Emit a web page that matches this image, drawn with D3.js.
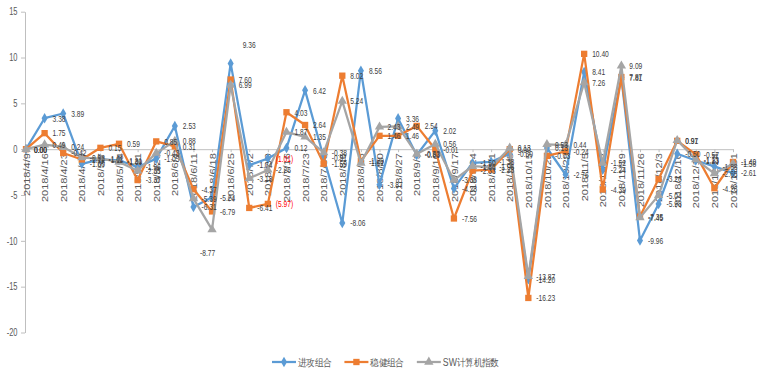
<!DOCTYPE html>
<html>
<head>
<meta charset="utf-8">
<script src="https://cdn.jsdelivr.net/npm/d3@7"></script>
<style>
  body { margin: 0; background: #fff; }
  svg { display: block; }
  text { font-family: "Liberation Sans", Arial, sans-serif; }
</style>
</head>
<body>
<svg id="chart" width="761" height="371"></svg>
<script>
// Weekly dates (category axis)
const dates = [
  "2018/4/9","2018/4/16","2018/4/23","2018/4/30","2018/5/7","2018/5/14","2018/5/21","2018/5/28",
  "2018/6/4","2018/6/11","2018/6/18","2018/6/25","2018/7/2","2018/7/9","2018/7/16","2018/7/23",
  "2018/7/30","2018/8/6","2018/8/13","2018/8/20","2018/8/27","2018/9/3","2018/9/10","2018/9/17",
  "2018/9/24","2018/10/1","2018/10/8","2018/10/15","2018/10/22","2018/10/29","2018/11/5","2018/11/12",
  "2018/11/19","2018/11/26","2018/12/3","2018/12/10","2018/12/17","2018/12/24","2018/12/31"
];

// Weekly returns (%)
const attack = [
  0.00, 3.38, 3.89, -1.60, -1.11, -1.21, -1.96, -1.03,
  2.53, -6.31, -5.24, 9.36, -1.74, -1.01, 0.12, 6.42,
  -0.91, -8.06, 8.56, -3.87, 3.36, -0.63, 2.02, -4.28,
  -1.50, -1.38, -0.50, -14.20, 0.13, -2.76, 8.41, -2.24,
  7.81, -9.96, -5.98, -0.50, -1.23, -1.88, -2.61
];
const steady = [
  0.00, 1.75, -0.42, -1.12, 0.15, 0.59, -3.37, 0.85,
  0.31, -4.37, -6.79, 7.60, -6.41, -5.97, 4.03, 2.64,
  -1.59, 8.02, -1.29, 1.46, 1.46, 2.54, -0.01, -7.56,
  -2.33, -2.23, 0.00, -16.23, -0.73, -0.24, 10.40, -4.39,
  7.87, -7.35, -3.26, 0.91, -0.57, -4.26, -1.40
];
const swIndex = [
  0.00, 0.49, 0.24, -0.92, -1.02, -1.39, -2.35, -0.43,
  0.88, -5.39, -8.77, 6.99, -3.18, -2.26, 1.87, 1.35,
  -0.38, 5.24, -1.52, 2.43, 2.49, -0.53, 0.56, -3.38,
  -1.86, -1.96, 0.13, -13.87, 0.53, 0.44, 7.26, -1.52,
  9.09, -7.45, -5.04, 0.97, -1.13, -2.65, -1.58
];

const seriesNames = ["进攻组合", "稳健组合", "SW计算机指数"];
const yTicks = [15, 10, 5, 0, -5, -10, -15, -20];

// Labels of this week use the red bracketed number format
const redLabelDates = ["2018/7/9"];
const redLabelSeries = ["进攻组合", "稳健组合"];

// A few labels that sit away from the default right-hand spot
const labelNudge = {
  "进攻组合|2018/6/25": [4, -19],
  "SW计算机指数|2018/6/18": [-20, 23]
};

const svg = d3.select("#chart");
const x = d3.scalePoint().domain(dates).range([26, 733]);
const y = d3.scaleLinear().domain([-20, 15]).range([332.5, 11.7]);

const axisColor = "#bfbfbf";
const textColor = "#595959";

// Value axis
const yAxis = svg.append("g")
  .attr("transform", "translate(25,0)")
  .call(d3.axisLeft(y).tickValues(yTicks).tickSize(4).tickSizeOuter(0).tickFormat(d => String(d)));
yAxis.select(".domain").attr("stroke", axisColor);
yAxis.selectAll(".tick line").attr("stroke", axisColor);
yAxis.selectAll(".tick text")
  .attr("fill", textColor)
  .attr("font-size", 10)
  .attr("x", -10)
  .attr("transform", "scale(0.75,1)");

// Category axis through zero
const xAxis = svg.append("g")
  .attr("transform", `translate(0,${y(0)})`)
  .call(d3.axisBottom(x).tickSize(3).tickSizeOuter(0));
xAxis.select(".domain").attr("stroke", axisColor);
xAxis.selectAll(".tick line").attr("stroke", axisColor);
xAxis.selectAll(".tick text")
  .attr("fill", textColor)
  .attr("font-size", 11)
  .attr("text-anchor", "end")
  .attr("x", -4)
  .attr("y", 0)
  .attr("dy", "0.35em")
  .attr("transform", "rotate(-90) scale(1,0.8)");

const series = [
  { name: seriesNames[0], values: attack,  color: "#5b9bd5", symbol: d3.symbolDiamond,  size: 32 },
  { name: seriesNames[1], values: steady,  color: "#ed7d31", symbol: d3.symbolSquare,   size: 40 },
  { name: seriesNames[2], values: swIndex, color: "#a5a5a5", symbol: d3.symbolTriangle, size: 38 }
];

const line = d3.line()
  .x((d, i) => x(dates[i]))
  .y(d => y(d));

// Lines and markers
series.forEach(s => {
  const g = svg.append("g");
  g.append("path")
    .datum(s.values)
    .attr("fill", "none")
    .attr("stroke", s.color)
    .attr("stroke-width", 2.25)
    .attr("stroke-linejoin", "round")
    .attr("d", line);
  g.selectAll("path.marker")
    .data(s.values)
    .join("path")
    .attr("class", "marker")
    .attr("d", d3.symbol().type(s.symbol).size(s.size))
    .attr("fill", s.color)
    .attr("transform", (d, i) => `translate(${x(dates[i])},${y(d)})`);
});

// Data labels
series.forEach(s => {
  const g = svg.append("g");
  g.selectAll("text")
    .data(s.values)
    .join("text")
    .attr("font-size", 9.5)
    .attr("dy", "0.35em")
    .attr("fill", (d, i) =>
      redLabelDates.includes(dates[i]) && redLabelSeries.includes(s.name) ? "#ff0000" : "#404040")
    .attr("transform", (d, i) => {
      const n = labelNudge[s.name + "|" + dates[i]] || [0, 0];
      return `translate(${x(dates[i]) + 8 + n[0]},${y(d) + n[1]}) scale(0.7,1)`;
    })
    .text((d, i) =>
      redLabelDates.includes(dates[i]) && redLabelSeries.includes(s.name)
        ? "(" + Math.abs(d).toFixed(2) + ")"
        : d.toFixed(2));
});

// Legend
const legend = svg.append("g").attr("transform", "translate(272,362)");
let lx = 0;
series.forEach(s => {
  const item = legend.append("g").attr("transform", `translate(${lx},0)`);
  item.append("line")
    .attr("x1", 0).attr("x2", 24).attr("y1", 0).attr("y2", 0)
    .attr("stroke", s.color).attr("stroke-width", 2.25);
  item.append("path")
    .attr("d", d3.symbol().type(s.symbol).size(s.size))
    .attr("fill", s.color)
    .attr("transform", "translate(12,0)");
  const t = item.append("text")
    .attr("font-family", "'Noto Sans CJK SC', sans-serif")
    .attr("font-size", 10)
    .attr("fill", textColor)
    .attr("dy", "0.35em")
    .attr("transform", "translate(26,0) scale(0.87,1)")
    .text(s.name);
  lx += 26 + t.node().getComputedTextLength() * 0.87 + 13;
});
</script>
</body>
</html>
